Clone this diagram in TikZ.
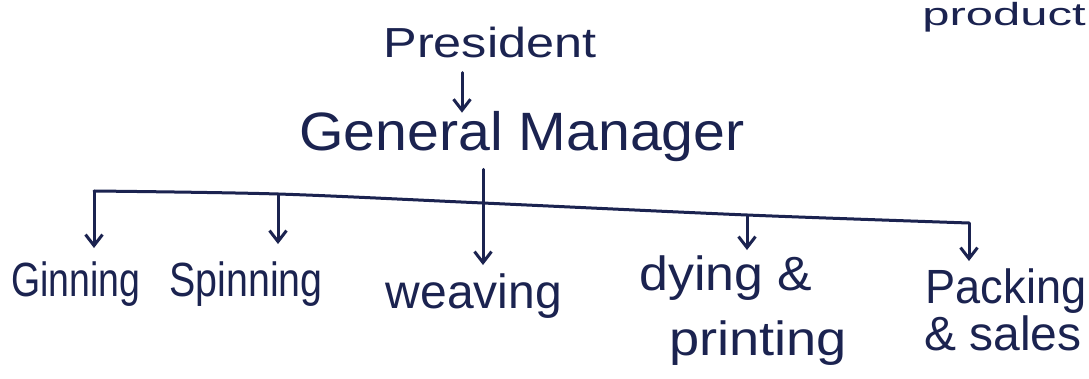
\documentclass[tikz,border=0pt]{standalone}
\usepackage{fontspec}
\setmainfont{Liberation Sans}
\usetikzlibrary{arrows.meta}
\definecolor{ink}{HTML}{1B2350}
% horizontal stretch of a label, text stays text
\newcommand{\sx}[2]{\scalebox{#1}[1]{#2}}
\begin{document}
\begin{tikzpicture}[x=1pt,y=-1pt,
  lbl/.style={inner sep=0pt, anchor=base, text=ink, font=\fontsize{48}{54}\selectfont},
  link/.style={draw=ink, line width=3pt, line cap=round, line join=round},
  tip/.style={link, -{Straight Barb[length=11pt,width=17pt,line width=3pt]}}]
\path[use as bounding box, fill=white] (0,0) rectangle (1089,378);
\clip (0,0) rectangle (1089,378);

% labels
\node[lbl, font=\fontsize{32}{34}\selectfont] (prod) at (1004,25) {\sx{1.53}{product}};
\node[lbl, font=\fontsize{42}{50}\selectfont] (pres) at (490,57) {\sx{1.2}{President}};
\node[lbl, font=\fontsize{54}{60}\selectfont] (gm) at (522,150) {\sx{1.06}{General Manager}};
\node[lbl] (gin)   at (76,296)   {\sx{0.78}{Ginning}};
\node[lbl] (spin)  at (246,296)  {\sx{0.82}{Spinning}};
\node[lbl] (weav)  at (474,308)  {\sx{1.0}{weaving}};
\node[lbl] (dye)   at (726,290)  {\sx{1.08}{dying \&}};
\node[lbl] (print) at (758,355)  {\sx{1.13}{printing}};
\node[lbl] (pack)  at (1006,303) {\sx{0.94}{Packing}};
\node[lbl] (sales) at (1003,350) {\sx{1.0}{\& sales}};

% President to General Manager
\coordinate (pa) at (462,0);
\draw[tip, shorten <=15pt, shorten >=-2pt] (pres.south -| pa) -- (gm.north -| pa);

% General Manager straight down to weaving
\coordinate (wx) at (483,0);
\draw[tip, shorten <=8pt, shorten >=8pt] (gm.south -| wx) -- (weav.north -| wx);

% distribution bar
\coordinate (b1) at (94,191);
\coordinate (b2) at (278,194);
\coordinate (b3) at (483,203);
\coordinate (b4) at (747,215);
\coordinate (b5) at (969,223);
\draw[link] plot[smooth, tension=0.5] coordinates {(b1) (b2) (b3) (b4) (b5)};

% drops to the departments
\draw[tip, shorten >=13pt] (b1) -- (gin.north -| b1);
\draw[tip, shorten >=17pt] (b2) -- (spin.north -| b2);
\draw[tip, shorten >=5pt]  (b4) -- (dye.north -| b4);
\draw[tip, shorten >=7pt]  (b5) -- (pack.north -| b5);
\end{tikzpicture}
\end{document}
